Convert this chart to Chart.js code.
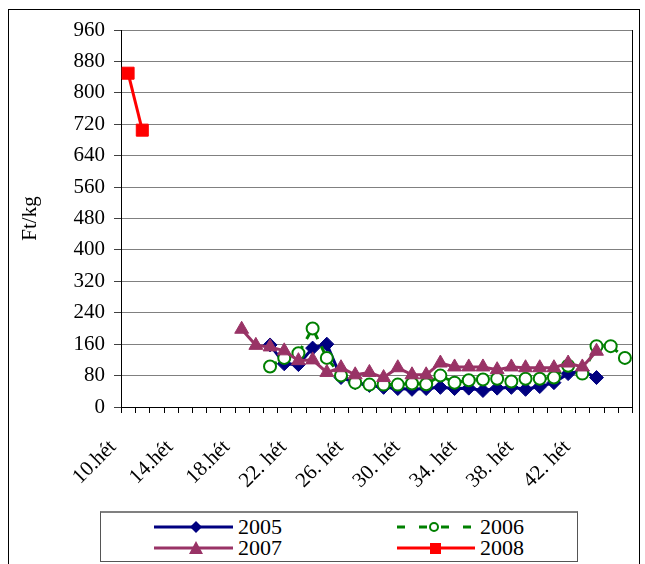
<!DOCTYPE html>
<html>
<head>
<meta charset="utf-8">
<title>Ft/kg hetente</title>
<script src="https://cdn.jsdelivr.net/npm/chart.js@4"></script>
<style>
  body { margin: 0; background: #fff; }
  #wrap { position: relative; width: 645px; height: 564px; overflow: hidden; font-family: 'Liberation Serif', 'Times New Roman', serif; }
  #chart { position: absolute; left: 0; top: 0; }
  .frame { position: absolute; left: 8px; top: 9px; width: 632px; height: 570px; border: 1px solid #000; box-sizing: border-box; pointer-events: none; }
  .legend { position: absolute; left: 100px; top: 511px; width: 478px; height: 51px; border: 1px solid #555; border-top: 2px solid #808080; box-sizing: border-box; background: #fff; }
  .legend svg { position: absolute; left: -1px; top: -2px; }
  .lbl { position: absolute; font-size: 22px; line-height: 20px; color: #000; }
</style>
</head>
<body>
<div id="wrap">
  <canvas id="chart" width="645" height="564"></canvas>
  <div class="frame"></div>
  <div class="legend">
    <svg width="478" height="51">
      <line x1="54" y1="16" x2="133" y2="16" stroke="#000080" stroke-width="3"/>
      <polygon points="90,16 96,10 102,16 96,22" fill="#000080"/>
      <line x1="297" y1="16" x2="375" y2="16" stroke="#008000" stroke-width="3" stroke-dasharray="8,14"/>
      <circle cx="334" cy="16" r="4" fill="#fff" stroke="#008000" stroke-width="2"/>
      <line x1="54" y1="37" x2="133" y2="37" stroke="#993366" stroke-width="3"/>
      <polygon points="96,30 103,43 89,43" fill="#993366"/>
      <line x1="297" y1="37" x2="375" y2="37" stroke="#ff0000" stroke-width="3"/>
      <rect x="330" y="32" width="11" height="11" fill="#ff0000"/>
    </svg>
  </div>
  <span class="lbl" style="left:238px;top:517px">2005</span>
  <span class="lbl" style="left:480px;top:517px">2006</span>
  <span class="lbl" style="left:238px;top:538px">2007</span>
  <span class="lbl" style="left:480px;top:538px">2008</span>
</div>
<script>
// weeks on the category axis (10. to 45. hét)
const weeks = ['10.hét', '11.hét', '12.hét', '13.hét', '14.hét', '15.hét', '16.hét', '17.hét',
  '18.hét', '19.hét', '20.hét', '21.hét', '22. hét', '23. hét', '24. hét', '25. hét',
  '26. hét', '27. hét', '28. hét', '29. hét', '30. hét', '31. hét', '32. hét', '33. hét',
  '34. hét', '35. hét', '36. hét', '37. hét', '38. hét', '39. hét', '40. hét', '41. hét',
  '42. hét', '43. hét', '44. hét', '45. hét'];

// Ft/kg per week, null where there is no price
const price2005 = [null, null, null, null, null, null, null, null, null, null,
  158, 110, 108, 150, 160, 75, 62, 55, 50, 47, 45, 47, 50, 47, 48, 42, 48, 50, 45, 52,
  62, 85, 92, 75, null, null];
const price2006 = [null, null, null, null, null, null, null, null, null, null,
  103, 125, 137, 200, 125, 80, 62, 57, 57, 57, 60, 58, 80, 62, 68, 70, 72, 65, 72, 72,
  75, 105, 85, 155, 155, 125];
const price2007 = [null, null, null, null, null, null, null, null,
  198, 157, 153, 143, 118, 120, 88, 100, 82, 88, 75, 100, 82, 82, 112, 102, 102, 102,
  95, 102, 100, 100, 100, 112, 102, 142, null, null];
const price2008 = [850, 705, null, null, null, null, null, null, null, null, null, null,
  null, null, null, null, null, null, null, null, null, null, null, null, null, null,
  null, null, null, null, null, null, null, null, null, null];

const yTicks = [0, 80, 160, 240, 320, 400, 480, 560, 640, 720, 800, 880, 960];

const serif = "'Liberation Serif', 'Times New Roman', serif";

// right edge of the plot area
const plotBorder = {
  id: 'plotBorder',
  afterDraw(chart) {
    const { ctx, chartArea: a } = chart;
    ctx.save();
    ctx.strokeStyle = '#000';
    ctx.lineWidth = 1;
    ctx.beginPath();
    ctx.moveTo(Math.round(a.right) + 0.5, a.top);
    ctx.lineTo(Math.round(a.right) + 0.5, a.bottom);
    ctx.stroke();
    ctx.restore();
  }
};

// short tick marks between the weeks (the real grid ticks are long and hidden
// so the rotated labels sit lower)
const xTickMarks = {
  id: 'xTickMarks',
  afterDraw(chart) {
    const s = chart.scales.x;
    const ctx = chart.ctx;
    const n = s.ticks.length;
    const step = s.getPixelForTick(1) - s.getPixelForTick(0);
    ctx.save();
    ctx.strokeStyle = '#000';
    ctx.lineWidth = 1;
    ctx.beginPath();
    for (let i = 0; i <= n; i++) {
      const px = Math.round(s.getPixelForTick(0) - step / 2 + i * step) + 0.5;
      ctx.moveTo(px, s.top);
      ctx.lineTo(px, s.top + 6);
    }
    ctx.stroke();
    ctx.restore();
  }
};

function makeChart() {
  const ctx = document.getElementById('chart').getContext('2d');
  new Chart(ctx, {
    type: 'line',
    data: {
      labels: weeks,
      datasets: [
        {
          label: '2005', data: price2005, order: 4,
          borderColor: '#000080', backgroundColor: '#000080', borderWidth: 3,
          pointStyle: 'rectRot', pointRadius: 7, pointBorderWidth: 1,
          pointBackgroundColor: '#000080', pointBorderColor: '#000080'
        },
        {
          label: '2006', data: price2006, order: 3,
          borderColor: '#008000', backgroundColor: '#fff', borderWidth: 3, borderDash: [8, 8],
          pointStyle: 'circle', pointRadius: 6, pointBorderWidth: 2,
          pointBackgroundColor: '#fff', pointBorderColor: '#008000'
        },
        {
          label: '2007', data: price2007, order: 2,
          borderColor: '#993366', backgroundColor: '#993366', borderWidth: 3,
          pointStyle: 'triangle', pointRadius: 8, pointBorderWidth: 1,
          pointBackgroundColor: '#993366', pointBorderColor: '#993366'
        },
        {
          label: '2008', data: price2008, order: 1,
          borderColor: '#ff0000', backgroundColor: '#ff0000', borderWidth: 3,
          pointStyle: 'rect', pointRadius: 8.5, pointBorderWidth: 1,
          pointBackgroundColor: '#ff0000', pointBorderColor: '#ff0000'
        }
      ]
    },
    options: {
      responsive: false,
      animation: false,
      layout: { padding: { left: 12, top: 30, right: 13, bottom: 57 } },
      plugins: {
        legend: { display: false },
        tooltip: { enabled: false }
      },
      scales: {
        x: {
          type: 'category',
          offset: true,
          grid: { drawOnChartArea: false, offset: true, color: 'rgba(0,0,0,0)', tickLength: 26 },
          border: { color: '#000', width: 1 },
          ticks: {
            autoSkip: false,
            maxRotation: 45,
            minRotation: 45,
            padding: 2,
            labelOffset: -15,
            color: '#000',
            font: { family: serif, size: 21 },
            callback: function(value, index) {
              return index % 4 === 0 ? weeks[index] : '';
            }
          },
          afterFit(scale) { scale.height = 100; }
        },
        y: {
          min: 0,
          max: 960,
          afterBuildTicks(scale) { scale.ticks = yTicks.map(v => ({ value: v })); },
          grid: { color: '#808080', lineWidth: 1, tickLength: 7, tickColor: '#404040' },
          border: { color: '#000', width: 1 },
          ticks: {
            padding: 9,
            color: '#000',
            font: { family: serif, size: 21 }
          },
          title: {
            display: true,
            text: 'Ft/kg',
            color: '#000',
            padding: { top: 6, bottom: 0 },
            font: { family: serif, size: 21 }
          },
          afterFit(scale) { scale.width = 109; }
        }
      }
    },
    plugins: [plotBorder, xTickMarks]
  });
}

document.addEventListener('DOMContentLoaded', makeChart);
</script>
</body>
</html>
